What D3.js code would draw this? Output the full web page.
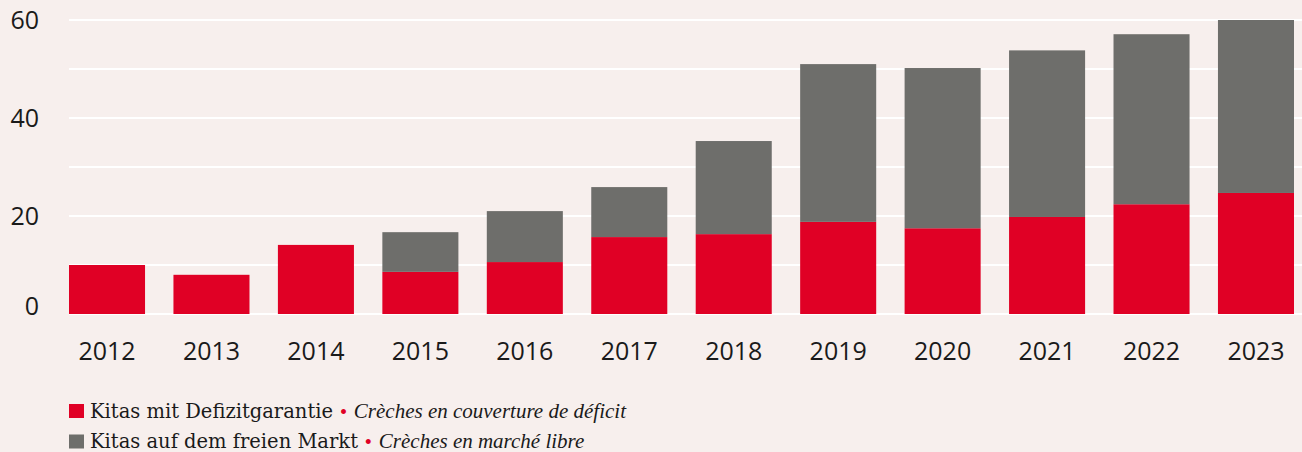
<!DOCTYPE html>
<html>
<head>
<meta charset="utf-8">
<script src="https://cdn.jsdelivr.net/npm/d3@7"></script>
<style>
  html, body { margin: 0; padding: 0; background: #f7efed; }
  svg { display: block; }
</style>
</head>
<body>
<svg id="chart" width="1302" height="452"></svg>
<script>
const years = ["2012","2013","2014","2015","2016","2017","2018","2019","2020","2021","2022","2023"];
const defizit = [10.0, 8.0, 14.1, 8.6, 10.6, 15.7, 16.3, 18.8, 17.5, 19.8, 22.4, 24.7];
const freierMarkt = [0, 0, 0, 8.1, 10.4, 10.2, 19.0, 32.2, 32.7, 34.0, 34.7, 35.3];
const yTicks = [0, 20, 40, 60];
const gridTicks = [0, 10, 20, 30, 40, 50, 60];
const legendItems = [
  { de: "Kitas mit Defizitgarantie", fr: "Crèches en couverture de déficit", color: "#e00025" },
  { de: "Kitas auf dem freien Markt", fr: "Crèches en marché libre", color: "#6e6e6b" }
];

const svg = d3.select("#chart");
const W = 1302;
const x = d3.scaleBand().domain(years).range([69, 1294]).paddingInner(0.272).paddingOuter(0);
const y = d3.scaleLinear().domain([0, 60]).range([314, 20]);

svg.append("rect").attr("width", W).attr("height", 452).attr("fill", "#f7efed");

// gridlines
svg.append("g").selectAll("line").data(gridTicks).join("line")
  .attr("x1", 69).attr("x2", W)
  .attr("y1", d => y(d)).attr("y2", d => y(d))
  .attr("stroke", "#ffffff").attr("stroke-width", 2);

// stacked data
const rows = years.map((yr, i) => ({ year: yr, defizit: defizit[i], markt: freierMarkt[i] }));
const stack = d3.stack().keys(["defizit", "markt"])(rows);
const colors = { defizit: "#e00025", markt: "#6e6e6b" };

svg.append("g").selectAll("g").data(stack).join("g")
  .attr("fill", s => colors[s.key])
  .selectAll("rect").data(s => s.filter(d => d[1] - d[0] > 0)).join("rect")
  .attr("x", d => x(d.data.year))
  .attr("width", x.bandwidth())
  .attr("y", d => y(d[1]))
  .attr("height", d => y(d[0]) - y(d[1]));

// y axis labels
const yAxis = d3.axisLeft(y).tickValues(yTicks).tickSize(0).tickPadding(0);
const gy = svg.append("g").attr("transform", "translate(39,0)").call(yAxis);
gy.select(".domain").remove();
gy.selectAll("text")
  .attr("font-family", "'Open Sans', sans-serif")
  .attr("font-size", 25)
  .attr("fill", "#1a1a1a")
  .attr("dy", d => d === 0 ? "0em" : "0.34em");

// x axis labels
const xAxis = d3.axisBottom(x).tickSize(0).tickPadding(0);
const gx = svg.append("g").attr("transform", "translate(0,360)").call(xAxis);
gx.select(".domain").remove();
gx.selectAll("text")
  .attr("font-family", "'Open Sans', sans-serif")
  .attr("font-size", 25)
  .attr("fill", "#1a1a1a")
  .attr("dy", 0);

// legend
const lg = svg.append("g").selectAll("g").data(legendItems).join("g")
  .attr("transform", (d, i) => `translate(69,${404 + i * 30.5})`);
lg.append("rect").attr("width", 15).attr("height", 14).attr("fill", d => d.color);
const t = lg.append("text").attr("x", 21).attr("y", 13.5)
  .attr("font-family", "'DejaVu Serif', serif").attr("font-size", 19.5).attr("fill", "#1a1a1a");
t.append("tspan").text(d => d.de);
t.append("tspan").attr("fill", "#e00025").attr("font-size", 17).text(" • ");
t.append("tspan").attr("font-style", "italic")
  .attr("font-family", "'Liberation Serif', serif").attr("font-size", 21)
  .text(d => d.fr);
</script>
</body>
</html>
